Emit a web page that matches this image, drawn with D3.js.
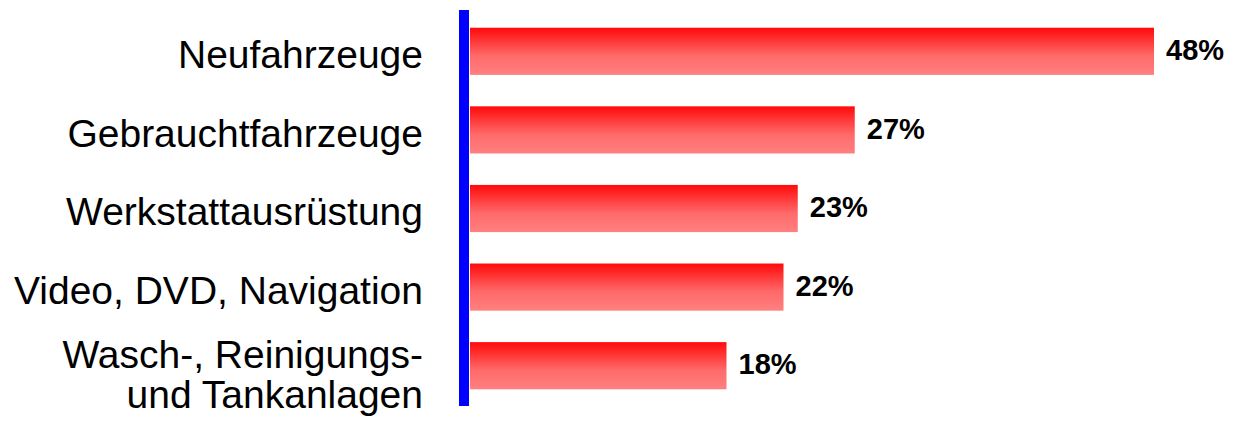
<!DOCTYPE html>
<html>
<head>
<meta charset="utf-8">
<script src="https://cdn.jsdelivr.net/npm/d3@7"></script>
<style>
	body { margin: 0; background: #fff; }
	text { font-family: "Liberation Sans", Arial, Helvetica, sans-serif; }
</style>
</head>
<body>
<div id="chart"></div>
<script>
// data
var categories = ["Neufahrzeuge", "Gebrauchtfahrzeuge", "Werkstattausrüstung", "Video, DVD, Navigation", "Wasch-, Reinigungs-|und Tankanlagen"];
var values = [48, 27, 23, 22, 18];
var valueLabels = ["48%", "27%", "23%", "22%", "18%"];

function init(){
	var w = 1235;
	var h = 421;

	var svg = d3.select("#chart")
				.append("svg")
				.attr("width", w)
				.attr("height", h);

	var y = d3.scaleBand()
				.domain(categories)
				.range([12, 405])
				.paddingInner(0.4)
				.paddingOuter(0.2);

	var x = d3.scaleLinear()
				.domain([0, 48])
				.range([470, 1154]);

	// red gradient, darker on top
	var grad = svg.append("defs")
				.append("linearGradient")
				.attr("id", "barGrad")
				.attr("x1", 0).attr("y1", 0)
				.attr("x2", 0).attr("y2", 1);
	grad.append("stop").attr("offset", "0%").attr("stop-color", "#ff0a0a");
	grad.append("stop").attr("offset", "60%").attr("stop-color", "#ff6a6a");
	grad.append("stop").attr("offset", "100%").attr("stop-color", "#ff8080");

	var data = categories.map(function(c, i){
		return {cat: c, value: values[i], label: valueLabels[i]};
	});

	svg.selectAll("rect.bar")
		.data(data)
		.enter()
		.append("rect")
		.attr("class", "bar")
		.attr("x", x(0))
		.attr("y", function(d){ return y(d.cat); })
		.attr("width", function(d){ return x(d.value) - x(0); })
		.attr("height", y.bandwidth())
		.style("fill", "url(#barGrad)");

	// blue axis line
	svg.append("rect")
		.attr("x", x(0) - 11)
		.attr("y", 10)
		.attr("width", 10)
		.attr("height", 396)
		.style("fill", "#0000ff");

	// category labels
	var labels = svg.selectAll("text.cat")
		.data(data)
		.enter()
		.append("text")
		.attr("class", "cat")
		.attr("text-anchor", "end")
		.attr("font-size", 39)
		.attr("fill", "#000")
		.attr("y", function(d){
			var lines = d.cat.split("|");
			return y(d.cat) + y.bandwidth()/2 + 3 - (lines.length - 1) * 14;
		});

	labels.selectAll("tspan")
		.data(function(d){ return d.cat.split("|"); })
		.enter()
		.append("tspan")
		.attr("x", 423)
		.attr("dy", function(d, i){ return i == 0 ? "0.35em" : "40px"; })
		.text(function(d){ return d; });

	// value labels
	svg.selectAll("text.val")
		.data(data)
		.enter()
		.append("text")
		.attr("class", "val")
		.attr("x", function(d){ return x(d.value) + 12; })
		.attr("y", function(d){ return y(d.cat) + y.bandwidth()/2; })
		.attr("dy", "0.3em")
		.attr("font-size", 29)
		.attr("font-weight", "bold")
		.attr("fill", "#000")
		.text(function(d){ return d.label; });
}

window.onload = init;
</script>
</body>
</html>
